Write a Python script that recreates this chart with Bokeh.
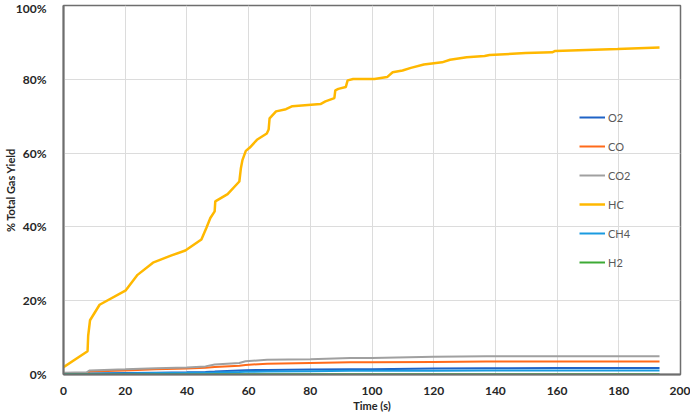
from bokeh.plotting import figure
from bokeh.models import Range1d, SingleIntervalTicker, PrintfTickFormatter, Legend, LegendItem
from bokeh.embed import file_html
from bokeh.resources import INLINE

# HC series (time s, % total gas yield)
hc_t = [0, 7.8, 8.0, 8.6, 11.7, 20.2, 24, 29, 34.8, 39.5, 44.7, 46.3, 47.6, 49.0, 49.2, 53.2,
        57.0, 57.5, 58.0, 59.1, 60.4, 62.7, 65.9, 66.5, 66.8, 68.9, 72.1, 74.2, 83.3, 84.9,
        87.8, 88.1, 89.1, 91.5, 92.1, 93.9, 100.8, 104.9, 106.7, 109.9, 112.6, 116.8, 122.7,
        125.3, 130.7, 136.5, 138.1, 149.8, 158.4, 159.4, 179.6, 193.2]
hc = [2.0, 6.3, 10.5, 14.7, 18.9, 22.8, 27.0, 30.3, 32.2, 33.6, 36.6, 39.7, 42.4, 44.2, 46.9, 48.9,
      52.3, 55.9, 58.1, 60.6, 61.5, 63.6, 65.3, 66.4, 69.4, 71.3, 71.9, 72.7, 73.3, 74.0,
      74.9, 77.0, 77.4, 77.9, 79.7, 80.1, 80.1, 80.6, 81.9, 82.4, 83.1, 84.0, 84.6,
      85.3, 86.0, 86.3, 86.6, 87.1, 87.3, 87.7, 88.2, 88.6]

# minor gases on a shared time grid
t = [0, 7.5, 8.5, 20, 30, 40, 46, 49, 57, 59, 66, 80, 93, 100, 120, 137, 160, 193.2]
co2 = [0.5, 0.6, 1.1, 1.4, 1.7, 1.9, 2.2, 2.7, 3.1, 3.6, 4.0, 4.1, 4.5, 4.5, 4.8, 4.96, 4.96, 4.96]
co = [0.3, 0.4, 0.8, 1.1, 1.4, 1.6, 1.8, 2.0, 2.4, 2.6, 2.9, 3.1, 3.3, 3.3, 3.4, 3.5, 3.5, 3.5]
o2 = [0.1, 0.15, 0.3, 0.4, 0.5, 0.6, 0.7, 0.8, 1.1, 1.15, 1.25, 1.35, 1.45, 1.45, 1.6, 1.7, 1.75, 1.75]
ch4 = [0.05, 0.1, 0.2, 0.3, 0.4, 0.45, 0.5, 0.55, 0.7, 0.75, 0.8, 0.9, 1.0, 1.0, 1.05, 1.1, 1.1, 1.1]
h2 = [0.0, 0.0, 0.02, 0.02, 0.03, 0.03, 0.03, 0.04, 0.04, 0.04, 0.05, 0.05, 0.05, 0.05, 0.05, 0.05, 0.05, 0.05]

names = ["O2", "CO", "CO2", "HC", "CH4", "H2"]
colors = ["#1F63C6", "#FF6A1A", "#A0A0A0", "#FFB800", "#1A9BE0", "#3DAA35"]

p = figure(width=690, height=414, output_backend="svg", toolbar_location=None,
           x_range=Range1d(0, 200), y_range=Range1d(0, 100))
p.min_border_left = 60
p.min_border_right = 10
p.min_border_top = 5
p.min_border_bottom = 38

series = [(t, o2), (t, co), (t, co2), (hc_t, hc), (t, ch4), (t, h2)]
renderers = []
for (xs, ys), c, n in zip(series, colors, names):
    w = 2.5 if n == "HC" else 2
    r = p.line(xs, ys, line_color=c, line_width=w)
    renderers.append(r)

p.xaxis.ticker = SingleIntervalTicker(interval=20)
p.yaxis.ticker = SingleIntervalTicker(interval=20)
p.yaxis.formatter = PrintfTickFormatter(format="%d%%")

for ax in (p.xaxis[0], p.yaxis[0]):
    ax.major_tick_line_color = None
    ax.minor_tick_line_color = None
    ax.major_tick_out = 0
    ax.major_tick_in = 0
    ax.major_label_text_font = "Lato"
    ax.major_label_text_font_style = "bold"
    ax.major_label_text_font_size = "12px"
    ax.major_label_text_color = "#262626"
    ax.axis_label_text_font = "Lato"
    ax.axis_label_text_font_style = "bold"
    ax.axis_label_text_font_size = "11px"
    ax.axis_label_text_color = "#262626"
    ax.axis_line_color = "#6e6e6e"
    ax.axis_line_width = 2

p.xaxis.axis_label = "Time (s)"
p.yaxis.axis_label = "% Total Gas Yield"
p.xaxis.major_label_standoff = 8
p.xaxis.axis_label_standoff = 1
p.yaxis.major_label_standoff = 13
p.yaxis.axis_label_standoff = -4

p.xgrid.grid_line_color = "#dcdcdc"
p.ygrid.grid_line_color = "#dcdcdc"
p.outline_line_color = "#6e6e6e"
p.outline_line_width = 1.5
p.background_fill_color = "white"
p.border_fill_color = "white"

legend = Legend(items=[LegendItem(label=n, renderers=[r]) for n, r in zip(names, renderers)],
                location=(516, 102))
legend.background_fill_alpha = 0
legend.border_line_alpha = 0
legend.label_text_font = "Lato"
legend.label_text_font_size = "11px"
legend.label_text_color = "#595959"
legend.glyph_width = 26
legend.glyph_height = 20
legend.label_height = 20
legend.spacing = 9
legend.padding = 0
legend.margin = 0
legend.label_standoff = 3
p.add_layout(legend, "center")

open("out.html", "w").write(file_html(p, INLINE))
